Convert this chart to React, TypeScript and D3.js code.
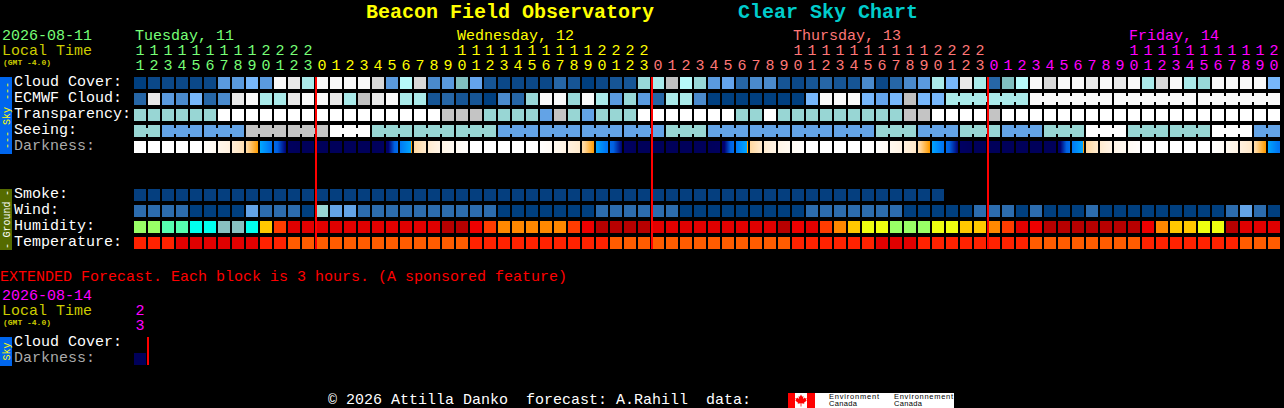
import React, { useEffect, useRef } from 'react';
import * as d3 from 'd3';

const WIDTH = 1284;
const HEIGHT = 408;

// hour of each block, starting at 11:00 on Tuesday
const hours = [
  11, 12, 13, 14, 15, 16, 17, 18, 19, 20, 21, 22, 23,
  0, 1, 2, 3, 4, 5, 6, 7, 8, 9, 10, 11, 12, 13, 14, 15, 16, 17, 18, 19, 20, 21, 22, 23,
  0, 1, 2, 3, 4, 5, 6, 7, 8, 9, 10, 11, 12, 13, 14, 15, 16, 17, 18, 19, 20, 21, 22, 23,
  0, 1, 2, 3, 4, 5, 6, 7, 8, 9, 10, 11, 12, 13, 14, 15, 16, 17, 18, 19, 20,
];
const dayNames = ['Tuesday, 11', 'Wednesday, 12', 'Thursday, 13', 'Friday, 14'];
const dayLabelBlock = [0, 23, 47, 71];
const dayFirstBlock = [0, 13, 37, 61];
const dayColors = ['#77ff77', '#ffff00', '#ff7777', '#ff00ff'];

const skyLabels = ['Cloud Cover:', 'ECMWF Cloud:', 'Transparency:', 'Seeing:', 'Darkness:'];
const groundLabels = ['Smoke:', 'Wind:', 'Humidity:', 'Temperature:'];

// cloud shades from clear to overcast
const cloudColors = [
  '#003f7f', '#0b4888', '#165595', '#2666a6', '#4a8acc', '#5a9ade', '#64a4ec', '#77b7fb',
  '#80bfbf', '#98d8d8', '#aaeaea', '#b7fafa', '#c0c0c0', '#d8d8d8', '#e9e9e9', '#f9f9f9',
];
const cloudCover = [
  0, 1, 1, 1, 1, 1, 5, 5, 7, 5, 15, 14, 10, 15, 15, 15, 15, 13, 5, 11, 13,
  4, 5, 8, 6, 2, 1, 1, 1, 1, 3, 2, 0, 1, 2, 2, 9, 10, 12, 11, 9, 5, 6, 3, 4, 4, 2, 1, 2, 3, 2,
  2, 4, 1, 3, 4, 5, 10, 7, 14, 10, 3, 8, 11, 15, 13, 15, 15, 14, 15, 14, 15, 10, 13, 15, 10, 9, 15, 15, 15, 15, 7,
];
const ecmwfCloud = [
  3, 14, 5, 4, 7, 3, 4, 14, 15, 10, 10, 14, 15, 15, 14, 10, 12, 14, 15, 10, 10,
  2, 3, 2, 2, 0, 4, 3, 9, 15, 15, 9, 15, 10, 5, 9, 5, 3, 10, 10, 4, 0, 0, 0, 0, 0, 0, 0, 7, 15, 15,
  15, 7, 6, 7, 12, 7, 7, 10, 10, 10, 10, 10, 10, 15, 15, 15, 15, 15, 15, 15, 15, 15, 15, 15, 15, 15, 15, 15, 15, 15, 15,
];
// the ECMWF row turns to six hour blocks at the end
const ecmwfSpans = [
  1, 1, 1, 1, 1, 1, 1, 1, 1, 1, 1, 1, 1, 1, 1, 1, 1, 1, 1, 1, 1, 1, 1, 1, 1, 1, 1, 1, 1,
  1, 1, 1, 1, 1, 1, 1, 1, 1, 1, 1, 1, 1, 1, 1, 1, 1, 1, 1, 1, 1, 1, 1, 1, 1, 1, 1, 1, 1,
  6, 6, 6, 6,
];

// 0 best ... 3 worst
const qualityColors = ['#63a3e6', '#98d6d4', '#c4c4c4', '#ffffff'];
const transparency = [
  1, 1, 1, 1, 1, 1, 3, 3, 3, 3, 3, 3, 3, 3, 3, 3, 3, 3, 3, 3, 3,
  3, 2, 2, 2, 1, 1, 1, 1, 0, 2, 1, 0, 1, 1, 1, 3, 3, 3, 3, 3, 3, 3, 1, 1, 3, 1, 1, 1, 1, 1,
  1, 1, 1, 1, 2, 2, 3, 3, 3, 3, 2, 3, 3, 3, 3, 3, 3, 3, 3, 3, 3, 3, 3, 3, 3, 3, 3, 3, 3, 3, 3,
];
// seeing comes in three hour groups, one value per group
const seeing = [
  1, 0, 0, 2, 2, 3, 1, 1, 1, 0, 0, 0, 0, 1, 0, 0, 0, 0, 1, 0, 1, 0, 1, 3, 1, 1, 3, 0,
];
const seeingSpans = [
  2, 3, 3, 3, 3, 3, 3, 3, 3, 3, 3, 3, 3, 3, 3, 3, 3, 3, 3, 3, 3, 3, 3, 3, 3, 3, 3, 2,
];

// darkness at the left and the right edge of each block
const darknessStops = [0, 1, 2, 3, 4, 5, 5.01, 6, 7, 8, 9];
const darknessColors = [
  '#ffffff', '#fff8ee', '#fff0dd', '#ffe8c8', '#ffd8a0', '#ff9c00',
  '#00a8ff', '#0078f4', '#0060e0', '#000070', '#00005a',
];
const darknessStart = [
  0, 0, 0, 0, 0, 0.3, 1.1, 2.3, 3.9, 5.01, 6.6, 8.8, 9, 9, 9, 9, 9, 9, 8.4, 6, 4,
  2.6, 1.4, 0.7, 0, 0, 0, 0, 0, 0.1, 0.9, 1.9, 3.8, 5.1, 6.6, 8.6, 9, 9, 9, 9, 9, 9, 8.4, 6, 4, 2.6, 1.4, 0.7, 0, 0, 0,
  0, 0, 0.1, 0.9, 1.9, 3.8, 5.1, 6.6, 8.6, 9, 9, 9, 9, 9, 9, 8.4, 6, 4, 2.6, 1.4, 0.7, 0, 0, 0, 0, 0, 0.1, 0.9, 1.9, 3.8, 5.1,
];
const darknessEnd = [
  0, 0, 0, 0, 0, 0.8, 1.9, 3.6, 5, 6.2, 8, 9, 9, 9, 9, 9, 9, 8.8, 6.4, 4.95, 2.8,
  1.5, 0.8, 0.2, 0, 0, 0, 0, 0, 0.6, 1.6, 2.8, 5, 6.2, 8, 9, 9, 9, 9, 9, 9, 8.8, 6.4, 4.95, 2.8, 1.5, 0.8, 0.2, 0, 0, 0,
  0, 0, 0.6, 1.6, 3, 5.05, 6.2, 8, 9, 9, 9, 9, 9, 9, 9, 6.4, 4.95, 2.8, 1.5, 0.8, 0.2, 0, 0, 0, 0, 0, 0.6, 1.6, 3, 5.05, 6.2,
];

const smokeColors = ['#053f7f'];
const smoke = [
  0, 0, 0, 0, 0, 0, 0, 0, 0, 0, 0, 0, 0, 0, 0, 0, 0, 0, 0, 0, 0, 0, 0, 0, 0, 0, 0, 0, 0,
  0, 0, 0, 0, 0, 0, 0, 0, 0, 0, 0, 0, 0, 0, 0, 0, 0, 0, 0, 0, 0, 0, 0, 0, 0, 0, 0, 0, 0,
];
const windColors = ['#003f7f', '#2c6cae', '#63a3e6', '#98d6d4'];
const wind = [
  1, 1, 1, 1, 0, 0, 0, 0, 2, 1, 1, 1, 0, 3, 2, 2, 1, 1, 1, 1, 1,
  1, 1, 1, 1, 1, 0, 0, 0, 0, 0, 0, 0, 1, 1, 1, 1, 1, 1, 0, 0, 0, 0, 0, 0, 0, 0, 0, 1, 1, 1,
  1, 1, 1, 1, 0, 0, 0, 0, 0, 1, 1, 1, 0, 1, 0, 0, 0, 1, 0, 0, 0, 0, 0, 0, 0, 0, 0, 1, 2, 1, 0,
];
const humidityColors = [
  '#b80000', '#e00000', '#ee0000', '#ff3c00', '#ff8800', '#ffc800',
  '#eeff10', '#99ff66', '#55ffb0', '#00ffee', '#88c0c0',
];
const humidity = [
  7, 7, 8, 8, 9, 9, 10, 10, 9, 5, 3, 1, 1, 1, 1, 1, 1, 1, 1, 1, 1,
  1, 0, 0, 2, 3, 4, 4, 4, 4, 4, 3, 2, 0, 0, 0, 0, 1, 1, 1, 1, 1, 1, 1, 1, 1, 0, 2, 1, 3, 4,
  5, 6, 6, 7, 7, 7, 6, 6, 5, 5, 4, 3, 1, 2, 0, 0, 0, 0, 0, 0, 0, 2, 4, 5, 5, 6, 6, 0, 1, 1, 1,
];
const temperatureColors = ['#e00000', '#ff2200', '#ff5c00'];
const temperature = [
  1, 1, 1, 0, 0, 0, 0, 0, 0, 1, 1, 2, 2, 2, 2, 2, 2, 2, 2, 2, 2,
  2, 2, 2, 1, 1, 1, 1, 1, 1, 1, 1, 1, 1, 2, 2, 2, 2, 2, 2, 2, 2, 2, 2, 2, 2, 2, 1, 1, 1, 1,
  1, 1, 0, 0, 0, 1, 1, 1, 1, 1, 1, 1, 1, 2, 2, 2, 2, 2, 2, 2, 2, 1, 1, 1, 1, 1, 1, 1, 2, 2, 2,
];

const extendedHours = [23];
const extendedDarkness = [9];

const mono = '"Liberation Mono", "DejaVu Sans Mono", monospace';
const leaf = 'M0,-6 L1.2,-3.8 L2.4,-4.4 L2,-1.6 L3.6,-3 L4,-2 L5.6,-2.4 L5,-0.4 L5.8,0 L3,2.2 L3.4,3.2 L0.4,2.8 L0.4,6 L-0.4,6 L-0.4,2.8 L-3.4,3.2 L-3,2.2 L-5.8,0 L-5,-0.4 L-5.6,-2.4 L-4,-2 L-3.6,-3 L-2,-1.6 L-2.4,-4.4 L-1.2,-3.8 Z';

const App = () => {
  const svgRef = useRef<SVGSVGElement>(null);

  useEffect(() => {
    if (!svgRef.current) return;

    document.body.style.margin = '0';
    document.body.style.background = '#000';

    const svg = d3.select(svgRef.current);
    svg.selectAll('*').remove();

    svg.append('rect').attr('width', WIDTH).attr('height', HEIGHT).attr('fill', '#000');

    const x = d3.scaleBand<number>()
      .domain(d3.range(hours.length))
      .range([134, 134 + 14 * hours.length - 2])
      .paddingInner(1 / 7);
    const ySky = d3.scaleBand<string>()
      .domain(skyLabels)
      .range([77, 77 + 16 * skyLabels.length - 4])
      .paddingInner(0.25);
    const yGround = d3.scaleBand<string>()
      .domain(groundLabels)
      .range([189, 189 + 16 * groundLabels.length - 4])
      .paddingInner(0.25);
    const darkColor = d3.scaleLinear<string>().domain(darknessStops).range(darknessColors).clamp(true);

    const text = (s: string, tx: number, ty: number, fill: string, size = 15, weight = 'normal') =>
      svg.append('text')
        .attr('x', tx)
        .attr('y', ty)
        .attr('fill', fill)
        .attr('font-family', mono)
        .attr('font-size', size)
        .attr('font-weight', weight)
        .style('white-space', 'pre')
        .text(s);

    // Header
    text('Beacon Field Observatory', 366, 18, '#ffff00', 20, 'bold');
    text('Clear Sky Chart', 738, 18, '#00cccc', 20, 'bold');
    text('2026-08-11', 2, 40, '#77ff77');
    text('Local Time', 2, 55, '#cccc00');
    text('(GMT -4.0)', 3, 65, '#cccc00', 8, 'bold');

    dayNames.forEach((name, d) => {
      text(name, x(dayLabelBlock[d])! + 1, 40, dayColors[d]);
    });

    const dayOf = (i: number) => d3.bisectRight(dayFirstBlock, i) - 1;
    const cx = (i: number) => x(i)! + x.bandwidth() / 2;

    svg.append('g').attr('text-anchor', 'middle')
      .selectAll('text')
      .data(hours.map((h, i) => ({ h, i })).filter(d => d.h >= 10))
      .enter().append('text')
      .attr('x', d => cx(d.i))
      .attr('y', 55)
      .attr('fill', d => dayColors[dayOf(d.i)])
      .attr('font-family', mono)
      .attr('font-size', 15)
      .text(d => Math.floor(d.h / 10));

    svg.append('g').attr('text-anchor', 'middle')
      .selectAll('text')
      .data(hours.map((h, i) => ({ h, i })))
      .enter().append('text')
      .attr('x', d => cx(d.i))
      .attr('y', 70)
      .attr('fill', d => dayColors[dayOf(d.i)])
      .attr('font-family', mono)
      .attr('font-size', 15)
      .text(d => d.h % 10);

    // Row labels
    skyLabels.forEach(l => {
      text(l, 14, ySky(l)! + 9, l === 'Darkness:' ? '#aaaaaa' : '#ffffff');
    });
    groundLabels.forEach(l => {
      text(l, 14, yGround(l)! + 9, '#ffffff');
    });

    // Blocks. Spans draw a small bridge between blocks that belong together.
    const drawRow = (values: number[], colors: string[], y: number, spans?: number[]) => {
      const row = svg.append('g');
      const bh = x.bandwidth();
      if (spans) {
        let start = 0;
        spans.forEach(n => {
          const fill = colors[values[start]];
          d3.range(start, start + n).forEach(i => {
            row.append('rect').attr('x', x(i)!).attr('y', y).attr('width', bh).attr('height', bh).attr('fill', fill);
            if (i < start + n - 1) {
              row.append('rect').attr('x', x(i)! + bh).attr('y', y + 3).attr('width', x.step() - bh).attr('height', bh - 6).attr('fill', fill);
            }
          });
          start += n;
        });
        return;
      }
      row.selectAll('rect')
        .data(values)
        .enter().append('rect')
        .attr('x', (_, i) => x(i)!)
        .attr('y', y)
        .attr('width', bh)
        .attr('height', bh)
        .attr('fill', d => colors[d]);
    };

    drawRow(cloudCover, cloudColors, ySky('Cloud Cover:')!);
    drawRow(ecmwfCloud, cloudColors, ySky('ECMWF Cloud:')!, ecmwfSpans);
    drawRow(transparency, qualityColors, ySky('Transparency:')!);

    const seeingByHour: number[] = [];
    seeingSpans.forEach((n, s) => d3.range(n).forEach(() => seeingByHour.push(seeing[s])));
    drawRow(seeingByHour, qualityColors, ySky('Seeing:')!, seeingSpans);

    // Darkness is a gradient inside every block
    const darkRow = svg.append('g');
    hours.forEach((_, i) => {
      const shade = d3.scaleLinear().domain([0, x.bandwidth()]).range([darknessStart[i], darknessEnd[i]]);
      d3.range(x.bandwidth()).forEach(px => {
        darkRow.append('rect')
          .attr('x', x(i)! + px)
          .attr('y', ySky('Darkness:')!)
          .attr('width', 1)
          .attr('height', x.bandwidth())
          .attr('fill', darkColor(shade(px + 0.5)));
      });
    });

    drawRow(smoke, smokeColors, yGround('Smoke:')!);
    drawRow(wind, windColors, yGround('Wind:')!);
    drawRow(humidity, humidityColors, yGround('Humidity:')!);
    drawRow(temperature, temperatureColors, yGround('Temperature:')!);

    // Midnight lines
    dayFirstBlock.slice(1).forEach(i => {
      svg.append('rect')
        .attr('x', x(i)! - 1)
        .attr('y', 77)
        .attr('width', 2)
        .attr('height', 172)
        .attr('fill', '#ff0000');
    });

    // Section bars
    svg.append('rect').attr('x', 0).attr('y', 77).attr('width', 12).attr('height', 77).attr('fill', '#0066ee');
    svg.append('rect').attr('x', 0).attr('y', 189).attr('width', 12).attr('height', 61).attr('fill', '#556b00');
    svg.append('rect').attr('x', 0).attr('y', 337).attr('width', 12).attr('height', 29).attr('fill', '#0066ee');

    const sideText = (s: string, cy: number, fill: string) =>
      svg.append('text')
        .attr('transform', `translate(9.5,${cy}) rotate(-90)`)
        .attr('text-anchor', 'middle')
        .attr('fill', fill)
        .attr('font-family', mono)
        .attr('font-size', 10)
        .text(s);
    sideText('---', 91, '#ffff00');
    sideText('Sky', 116, '#ffff00');
    sideText('---', 140, '#ffff00');
    sideText('-', 193, '#ffffff');
    sideText('Ground', 219.5, '#ffffff');
    sideText('-', 246, '#ffffff');
    sideText('Sky', 351.5, '#ffff00');

    // Extended forecast
    text('EXTENDED Forecast. Each block is 3 hours. (A sponsored feature)', 0, 281, '#ff0000');
    text('2026-08-14', 2, 300, '#ff00ff');
    text('Local Time', 2, 315, '#cccc00');
    text('(GMT -4.0)', 3, 325, '#cccc00', 8, 'bold');
    extendedHours.forEach((h, i) => {
      text(String(Math.floor(h / 10)), cx(i), 315, '#ff00ff').attr('text-anchor', 'middle');
      text(String(h % 10), cx(i), 330, '#ff00ff').attr('text-anchor', 'middle');
    });
    text('Cloud Cover:', 14, 346, '#ffffff');
    text('Darkness:', 14, 362, '#aaaaaa');
    extendedDarkness.forEach((d, i) => {
      svg.append('rect')
        .attr('x', x(i)!).attr('y', 353)
        .attr('width', x.bandwidth()).attr('height', x.bandwidth())
        .attr('fill', darkColor(d));
    });
    svg.append('rect').attr('x', 147).attr('y', 337).attr('width', 2).attr('height', 28).attr('fill', '#ff0000');

    // Footer
    text('\u00a9 2026 Attilla Danko  forecast: A.Rahill  data:', 328, 404, '#ffffff');

    const logo = svg.append('g');
    logo.append('rect').attr('x', 788).attr('y', 393).attr('width', 166).attr('height', 15).attr('fill', '#ffffff');
    logo.append('rect').attr('x', 788).attr('y', 393).attr('width', 7).attr('height', 15).attr('fill', '#ff0000');
    logo.append('rect').attr('x', 807).attr('y', 393).attr('width', 8).attr('height', 15).attr('fill', '#ff0000');
    logo.append('path').attr('d', leaf).attr('transform', 'translate(801,400.5)').attr('fill', '#ff0000');
    const logoText = (s: string, tx: number, ty: number, len: number) =>
      logo.append('text')
        .attr('x', tx).attr('y', ty)
        .attr('fill', '#000')
        .attr('font-family', '"Liberation Sans", Arial, sans-serif')
        .attr('font-size', 7.5)
        .attr('textLength', len)
        .text(s);
    logoText('Environment', 829, 399, 50);
    logoText('Canada', 829, 406, 28);
    logoText('Environnement', 894, 399, 59);
    logoText('Canada', 894, 406, 28);
  }, []);

  return <svg ref={svgRef} width={WIDTH} height={HEIGHT} style={{ display: 'block' }}></svg>;
};

export default App;
